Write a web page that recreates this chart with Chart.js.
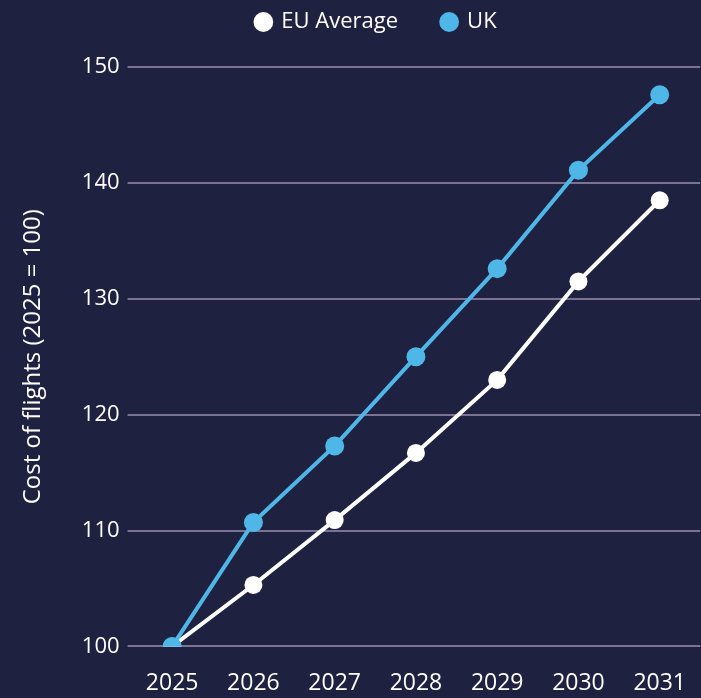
<!DOCTYPE html>
<html>
<head>
<meta charset="utf-8">
<script src="https://cdn.jsdelivr.net/npm/chart.js@4.4.1/dist/chart.umd.min.js"></script>
<style>
    html, body { margin: 0; padding: 0; background: #1f2140; overflow: hidden; }
    #wrap { width: 701px; height: 698px; position: relative; }
</style>
</head>
<body>
<div id="wrap"><canvas id="costChart"></canvas></div>
<script>
// 数据
const years = ['2025', '2026', '2027', '2028', '2029', '2030', '2031'];
const euAverage = [100, 105.3, 110.9, 116.7, 123.0, 131.5, 138.5];
const ukValues = [100, 110.7, 117.3, 125.0, 132.6, 141.1, 147.6];
const yTicks = [100, 110, 120, 130, 140, 150];

const gridColor = '#7a7391';
const ukBlue = '#4fb6e8';

// 图例：固定高度，绘制时上移并右移
const legendTweak = {
    id: 'legendTweak',
    beforeLayout(chart) {
        const lg = chart.legend;
        if (lg && !lg._tweaked) {
            const fit = lg.fit.bind(lg);
            lg.fit = function() {
                fit();
                this.height = 67;
            };
            const draw = lg.draw.bind(lg);
            lg.draw = function() {
                const box = { top: this.top, left: this.left, right: this.right };
                this.top = -33;
                this.left += 15;
                this.right += 15;
                draw();
                Object.assign(this, box);
            };
            lg._tweaked = true;
        }
    }
};

const ctx = document.getElementById('costChart');
new Chart(ctx, {
    type: 'line',
    data: {
        labels: years,
        datasets: [
            {
                label: 'EU Average',
                data: euAverage,
                order: 1,
                borderColor: '#ffffff',
                backgroundColor: '#ffffff',
                borderWidth: 4,
                pointRadius: 9,
                pointHoverRadius: 9,
                pointBorderWidth: 0,
                tension: 0
            },
            {
                label: 'UK',
                data: ukValues,
                order: 0,
                borderColor: ukBlue,
                backgroundColor: ukBlue,
                borderWidth: 4,
                pointRadius: 9.5,
                pointHoverRadius: 9.5,
                pointBorderWidth: 0,
                tension: 0
            }
        ]
    },
    plugins: [legendTweak],
    options: {
        responsive: true,
        maintainAspectRatio: false,
        animation: false,
        layout: { autoPadding: false, padding: { top: 0, right: -3, bottom: -14, left: 19 } },
        plugins: {
            legend: {
                position: 'top',
                labels: {
                    color: '#ffffff',
                    usePointStyle: true,
                    pointStyle: 'circle',
                    boxWidth: 14,
                    boxHeight: 14,
                    padding: 44,
                    font: { family: 'Open Sans', size: 22 },
                    sort: (a, b) => a.datasetIndex - b.datasetIndex
                }
            },
            tooltip: { enabled: false }
        },
        scales: {
            x: {
                offset: true,
                grid: { display: false },
                border: { display: false },
                ticks: {
                    color: '#ffffff',
                    padding: 15,
                    font: { family: 'Open Sans', size: 23 }
                }
            },
            y: {
                min: 100,
                max: 150,
                afterBuildTicks: function(axis) {
                    axis.ticks = yTicks.map(v => ({ value: v }));
                },
                grid: {
                    color: gridColor,
                    lineWidth: 2,
                    drawTicks: true,
                    tickLength: 4
                },
                border: { display: false },
                ticks: {
                    color: '#ffffff',
                    padding: 8,
                    font: { family: 'Open Sans', size: 22 }
                },
                title: {
                    display: true,
                    text: 'Cost of flights (2025 = 100)',
                    color: '#ffffff',
                    padding: { top: 0, bottom: 26 },
                    font: { family: 'Open Sans', size: 24 }
                }
            }
        }
    }
});
</script>
</body>
</html>
